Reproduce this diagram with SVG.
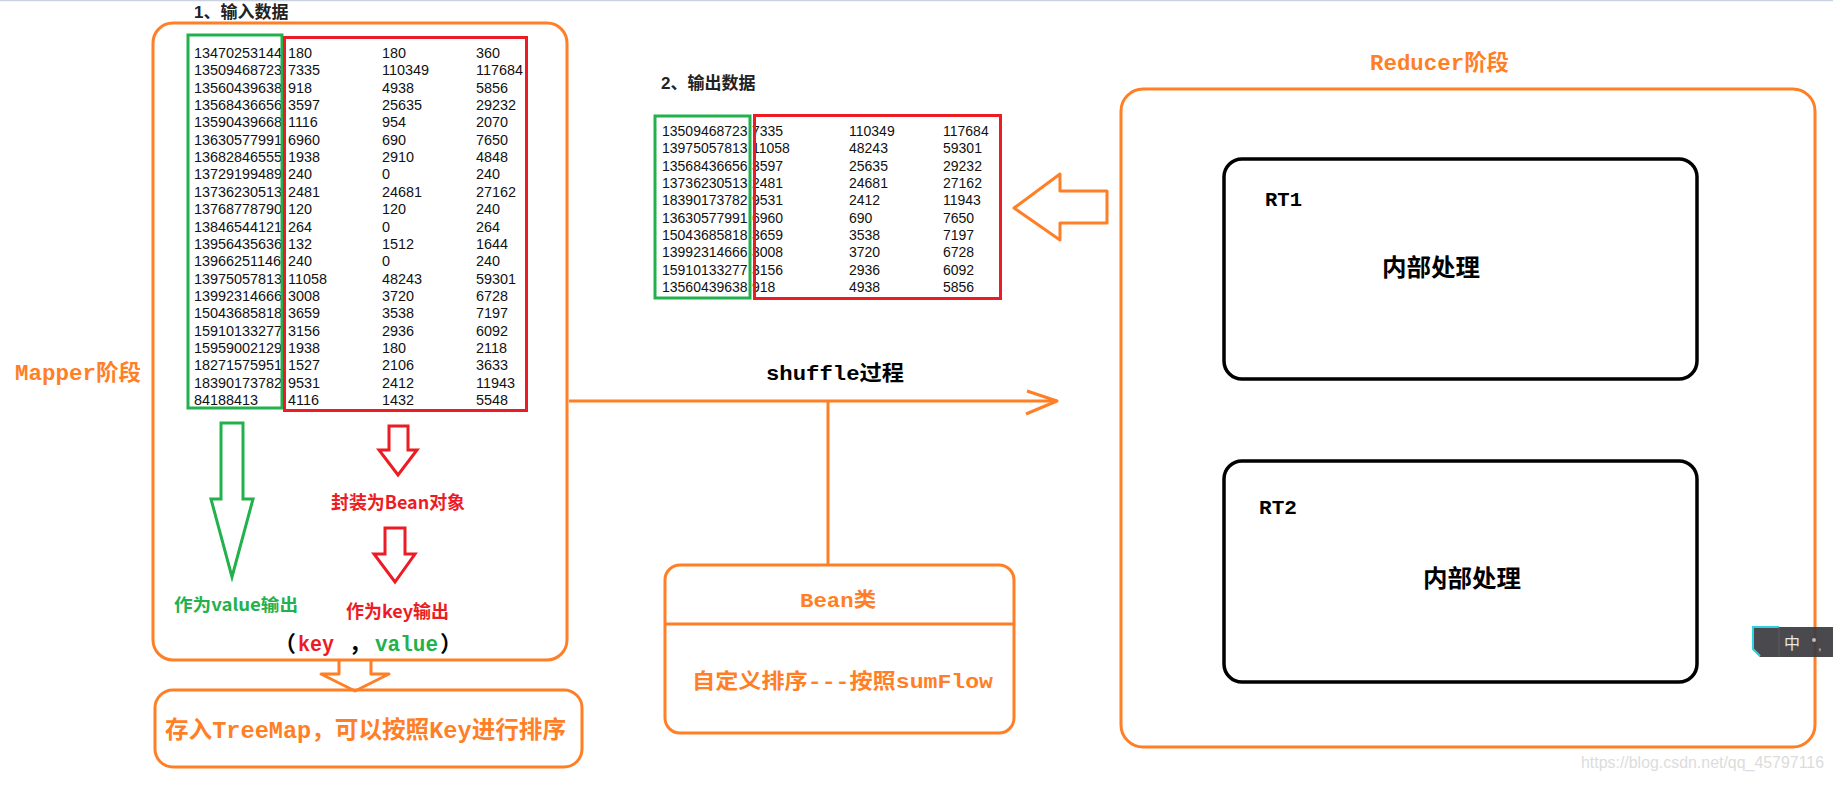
<svg xmlns="http://www.w3.org/2000/svg" width="1833" height="785" viewBox="0 0 1833 785">
<style>
.o{fill:none;stroke:#ff7f27;stroke-width:3;stroke-linejoin:round}
.g{fill:none;stroke:#22b14c;stroke-width:3}
.r{fill:none;stroke:#ed1c24;stroke-width:3}
.k{fill:none;stroke:#000;stroke-width:3.5}
.tb{font-family:"Liberation Sans","Noto Sans CJK SC",sans-serif;font-size:14.4px;fill:#111}
.tb2{font-family:"Liberation Sans","Noto Sans CJK SC",sans-serif;font-size:14px;fill:#111}
.hd{font-family:"Liberation Sans","Noto Sans CJK SC",sans-serif;font-size:17px;font-weight:bold;fill:#222}
.pm{font-family:"Liberation Mono","Noto Sans CJK SC",monospace;font-weight:bold}
.cj{font-family:"Noto Sans CJK SC","Liberation Sans",sans-serif;font-weight:bold}
.or{fill:#ff7f27}.gr{fill:#22b14c}.rd{fill:#ed1c24}.bk{fill:#000}
</style>
<rect x="0" y="0" width="1833" height="785" fill="#fff"/>
<line x1="0" y1="0.5" x2="1833" y2="0.5" stroke="#c8d2e0" stroke-width="1.5"/>

<g id="mapper-label"><text class="pm or" x="15" y="380" font-size="22" textLength="126" lengthAdjust="spacingAndGlyphs">Mapper阶段</text></g>

<g id="input-data">
<text class="hd" x="194" y="18">1、输入数据</text>
<rect class="o" x="153" y="23" width="414" height="637" rx="20"/>
<g class="tb">
<text y="58"><tspan x="194">13470253144</tspan><tspan x="288">180</tspan><tspan x="382">180</tspan><tspan x="476">360</tspan></text>
<text y="75.35"><tspan x="194">13509468723</tspan><tspan x="288">7335</tspan><tspan x="382">110349</tspan><tspan x="476">117684</tspan></text>
<text y="92.7"><tspan x="194">13560439638</tspan><tspan x="288">918</tspan><tspan x="382">4938</tspan><tspan x="476">5856</tspan></text>
<text y="110.05"><tspan x="194">13568436656</tspan><tspan x="288">3597</tspan><tspan x="382">25635</tspan><tspan x="476">29232</tspan></text>
<text y="127.4"><tspan x="194">13590439668</tspan><tspan x="288">1116</tspan><tspan x="382">954</tspan><tspan x="476">2070</tspan></text>
<text y="144.75"><tspan x="194">13630577991</tspan><tspan x="288">6960</tspan><tspan x="382">690</tspan><tspan x="476">7650</tspan></text>
<text y="162.1"><tspan x="194">13682846555</tspan><tspan x="288">1938</tspan><tspan x="382">2910</tspan><tspan x="476">4848</tspan></text>
<text y="179.45"><tspan x="194">13729199489</tspan><tspan x="288">240</tspan><tspan x="382">0</tspan><tspan x="476">240</tspan></text>
<text y="196.8"><tspan x="194">13736230513</tspan><tspan x="288">2481</tspan><tspan x="382">24681</tspan><tspan x="476">27162</tspan></text>
<text y="214.15"><tspan x="194">13768778790</tspan><tspan x="288">120</tspan><tspan x="382">120</tspan><tspan x="476">240</tspan></text>
<text y="231.5"><tspan x="194">13846544121</tspan><tspan x="288">264</tspan><tspan x="382">0</tspan><tspan x="476">264</tspan></text>
<text y="248.85"><tspan x="194">13956435636</tspan><tspan x="288">132</tspan><tspan x="382">1512</tspan><tspan x="476">1644</tspan></text>
<text y="266.2"><tspan x="194">13966251146</tspan><tspan x="288">240</tspan><tspan x="382">0</tspan><tspan x="476">240</tspan></text>
<text y="283.55"><tspan x="194">13975057813</tspan><tspan x="288">11058</tspan><tspan x="382">48243</tspan><tspan x="476">59301</tspan></text>
<text y="300.9"><tspan x="194">13992314666</tspan><tspan x="288">3008</tspan><tspan x="382">3720</tspan><tspan x="476">6728</tspan></text>
<text y="318.25"><tspan x="194">15043685818</tspan><tspan x="288">3659</tspan><tspan x="382">3538</tspan><tspan x="476">7197</tspan></text>
<text y="335.6"><tspan x="194">15910133277</tspan><tspan x="288">3156</tspan><tspan x="382">2936</tspan><tspan x="476">6092</tspan></text>
<text y="352.95"><tspan x="194">15959002129</tspan><tspan x="288">1938</tspan><tspan x="382">180</tspan><tspan x="476">2118</tspan></text>
<text y="370.3"><tspan x="194">18271575951</tspan><tspan x="288">1527</tspan><tspan x="382">2106</tspan><tspan x="476">3633</tspan></text>
<text y="387.65"><tspan x="194">18390173782</tspan><tspan x="288">9531</tspan><tspan x="382">2412</tspan><tspan x="476">11943</tspan></text>
<text y="405"><tspan x="194">84188413</tspan><tspan x="288">4116</tspan><tspan x="382">1432</tspan><tspan x="476">5548</tspan></text>
</g>
<rect class="g" x="188" y="35" width="94" height="373"/>
<rect class="r" x="284.5" y="37.5" width="242" height="373"/>
<polygon class="g" points="221,423 243,423 243,499 253,499 232,577 211,499 221,499"/>
<polygon class="r" points="389,426 408,426 408,450 417,450 398,475 379,450 389,450"/>
<text class="cj rd" x="331" y="509" font-size="18" textLength="134" lengthAdjust="spacingAndGlyphs">封装为Bean对象</text>
<polygon class="r" points="385,528 405,528 405,554 415,554 395,582 374,554 385,554"/>
<text class="cj gr" x="174" y="611" font-size="17" textLength="124" lengthAdjust="spacingAndGlyphs">作为value输出</text>
<text class="cj rd" x="346" y="618" font-size="18" textLength="103" lengthAdjust="spacingAndGlyphs">作为key输出</text>
<text class="cj bk" x="296" y="651" font-size="22" text-anchor="end">（</text>
<text class="pm rd" x="298" y="651" font-size="22" textLength="36" lengthAdjust="spacingAndGlyphs">key</text>
<text class="cj bk" x="349" y="651" font-size="22">，</text>
<text class="pm gr" x="375" y="651" font-size="22" textLength="63" lengthAdjust="spacingAndGlyphs">value</text>
<text class="cj bk" x="440" y="651" font-size="22">）</text>
</g>

<g id="treemap">
<rect class="o" x="155" y="690" width="427" height="77" rx="18"/>
<text class="pm or" x="165" y="738" font-size="24" textLength="401" lengthAdjust="spacingAndGlyphs">存入TreeMap，可以按照Key进行排序</text>
</g>

<g id="output-data">
<text class="hd" x="661" y="89">2、输出数据</text>
<g class="tb2">
<text y="136"><tspan x="662">13509468723</tspan><tspan x="752">7335</tspan><tspan x="849">110349</tspan><tspan x="943">117684</tspan></text>
<text y="153.3"><tspan x="662">13975057813</tspan><tspan x="752">11058</tspan><tspan x="849">48243</tspan><tspan x="943">59301</tspan></text>
<text y="170.7"><tspan x="662">13568436656</tspan><tspan x="752">3597</tspan><tspan x="849">25635</tspan><tspan x="943">29232</tspan></text>
<text y="188"><tspan x="662">13736230513</tspan><tspan x="752">2481</tspan><tspan x="849">24681</tspan><tspan x="943">27162</tspan></text>
<text y="205.3"><tspan x="662">18390173782</tspan><tspan x="752">9531</tspan><tspan x="849">2412</tspan><tspan x="943">11943</tspan></text>
<text y="222.7"><tspan x="662">13630577991</tspan><tspan x="752">6960</tspan><tspan x="849">690</tspan><tspan x="943">7650</tspan></text>
<text y="240"><tspan x="662">15043685818</tspan><tspan x="752">3659</tspan><tspan x="849">3538</tspan><tspan x="943">7197</tspan></text>
<text y="257.3"><tspan x="662">13992314666</tspan><tspan x="752">3008</tspan><tspan x="849">3720</tspan><tspan x="943">6728</tspan></text>
<text y="274.7"><tspan x="662">15910133277</tspan><tspan x="752">3156</tspan><tspan x="849">2936</tspan><tspan x="943">6092</tspan></text>
<text y="292"><tspan x="662">13560439638</tspan><tspan x="752">918</tspan><tspan x="849">4938</tspan><tspan x="943">5856</tspan></text>
</g>
<rect class="g" x="655" y="116" width="95" height="182"/>
<rect class="r" x="754.5" y="115.5" width="246" height="183"/>
</g>

<g id="bean">
<rect class="o" x="665" y="565" width="349" height="168" rx="15"/>
<line class="o" x1="665" y1="624" x2="1014" y2="624"/>
<text class="pm or" x="838" y="607" font-size="20" text-anchor="middle" textLength="76" lengthAdjust="spacingAndGlyphs">Bean类</text>
<text class="pm or" x="692" y="688" font-size="21" textLength="301" lengthAdjust="spacingAndGlyphs">自定义排序---按照sumFlow</text>
</g>

<g id="reducer">
<text class="pm or" x="1370" y="70" font-size="22" font-weight="normal" textLength="139" lengthAdjust="spacingAndGlyphs">Reducer阶段</text>
<rect class="o" x="1121" y="89" width="694" height="658" rx="22"/>
</g>
<g id="rt1">
<rect class="k" x="1224" y="159" width="473" height="220" rx="18"/>
<text class="pm bk" x="1265" y="206" font-size="20" textLength="37" lengthAdjust="spacingAndGlyphs">RT1</text>
<text class="cj bk" x="1382" y="276" font-size="24" textLength="98" lengthAdjust="spacingAndGlyphs">内部处理</text>
</g>
<g id="rt2">
<rect class="k" x="1224" y="461" width="473" height="221" rx="18"/>
<text class="pm bk" x="1259" y="514" font-size="20" textLength="38" lengthAdjust="spacingAndGlyphs">RT2</text>
<text class="cj bk" x="1423" y="587" font-size="24" textLength="98" lengthAdjust="spacingAndGlyphs">内部处理</text>
</g>

<g id="connectors">
<polyline class="o" points="339,660 339,674 321,674 355,691 389,674 371,674 371,660"/>
<line class="o" x1="569" y1="401" x2="1057" y2="401"/>
<polyline class="o" points="1027,391 1057,401 1026,414"/>
<line class="o" x1="828" y1="401" x2="828" y2="565"/>
<polygon class="o" points="1107,191 1060,191 1060,174 1014,208 1060,240 1060,223 1107,223"/>
<text class="pm bk" x="766" y="380" font-size="21" textLength="138" lengthAdjust="spacingAndGlyphs">shuffle过程</text>
</g>

<g id="overlay">
<polygon points="1752,627 1833,627 1833,657 1760,657 1752,649" fill="#3c3c41" opacity="0.93"/>
<polyline points="1779,627 1753,627 1753,649 1760,656" fill="none" stroke="#2dd4e0" stroke-width="2"/>
<line x1="1779" y1="627" x2="1779" y2="657" stroke="#5a5a60" stroke-width="1"/>
<text x="1784" y="649" font-family="Noto Sans CJK SC,sans-serif" font-size="16" fill="#e6e6e6">中</text>
<circle cx="1814" cy="640" r="2" fill="#bbb"/>
<text x="1818" y="650" font-family="Liberation Sans,sans-serif" font-size="13" fill="#ccc">,</text>
<text x="1581" y="768" font-family="Liberation Sans,sans-serif" font-size="16" fill="#dcdcdc" textLength="243" lengthAdjust="spacingAndGlyphs">https://blog.csdn.net/qq_45797116</text>
</g>
</svg>
